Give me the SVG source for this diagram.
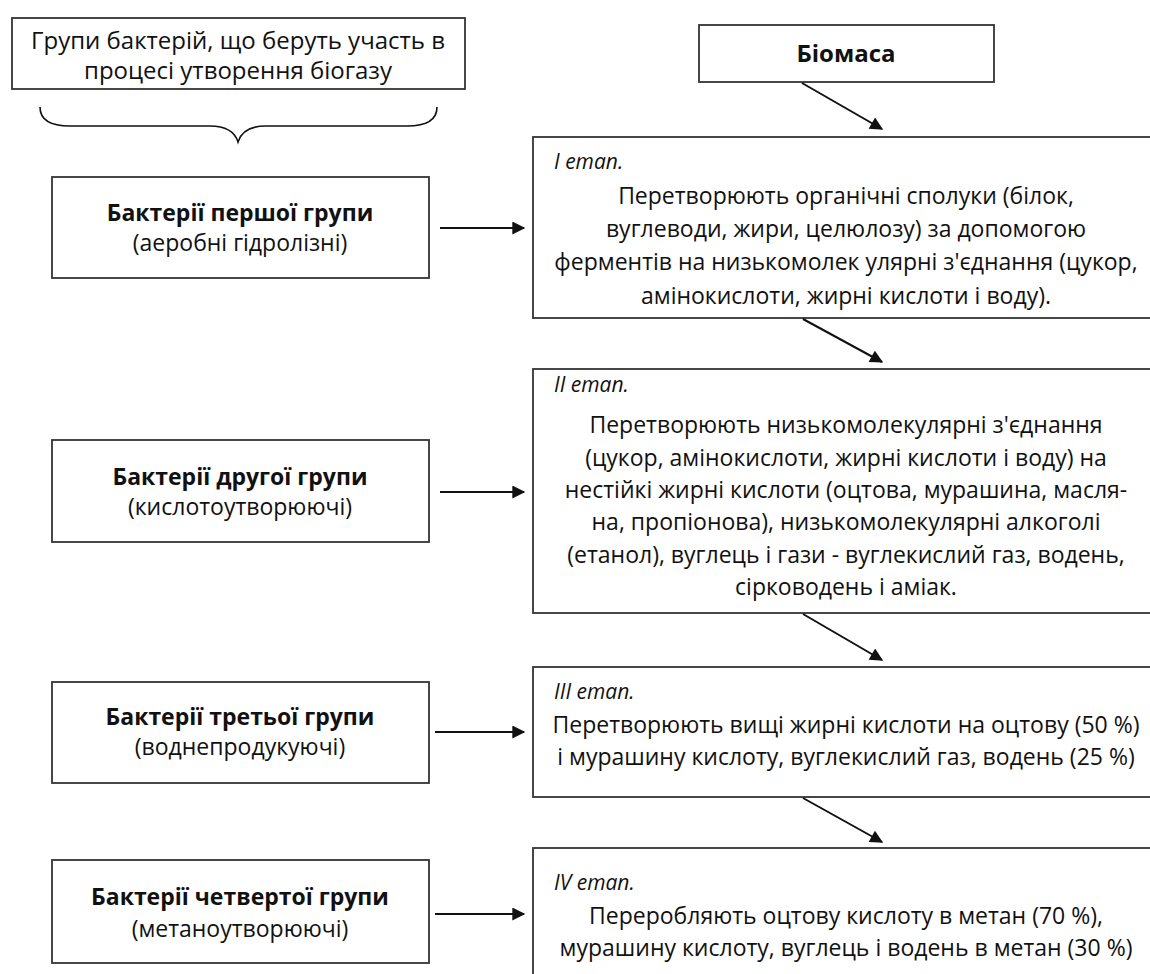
<svg xmlns="http://www.w3.org/2000/svg" width="1150" height="974" viewBox="0 0 1150 974">
<style>
.box{fill:#fff;stroke:#333;stroke-width:1.8}
.t{font-family:"Open Sans","Noto Sans","Liberation Sans",sans-serif;font-size:23px;fill:#111;text-anchor:middle}
.b{font-weight:bold}
.i{font-style:italic;text-anchor:start;font-size:21px}
.c{fill:none;stroke:#111;stroke-width:2}
</style>
<defs>
<marker id="ah" viewBox="0 0 10 10" refX="9" refY="5" markerWidth="7" markerHeight="6.5" markerUnits="strokeWidth" orient="auto">
<path d="M0,0 L10,5 L0,10 z" fill="#111"/>
</marker>
</defs>
<rect width="1150" height="974" fill="#fff"/>

<g id="groups-title">
<rect class="box" x="12" y="18" width="453" height="71"/>
<text class="t" x="238" y="49" style="font-size:24px">Групи бактерій, що беруть участь в</text>
<text class="t" x="238" y="79" style="font-size:24px">процесі утворення біогазу</text>
</g>
<g id="brace">
<path class="c" style="stroke-width:1.6" d="M40,107 Q40,126 70,126 L210,126 Q233,126 238,142 Q243,126 266,126 L407,126 Q437,126 437,107"/>
</g>

<g id="biomass">
<rect class="box" x="699" y="25" width="295" height="57"/>
<text class="t b" x="846" y="62" style="font-size:24px">Біомаса</text>
</g>

<g id="group1">
<rect class="box" x="52" y="177" width="377" height="101"/>
<text class="t b" x="240" y="221">Бактерії першої групи</text>
<text class="t" x="240" y="251">(аеробні гідролізні)</text>
</g>
<g id="group2">
<rect class="box" x="52" y="440" width="377" height="102"/>
<text class="t b" x="240" y="485">Бактерії другої групи</text>
<text class="t" x="240" y="515">(кислотоутворюючі)</text>
</g>
<g id="group3">
<rect class="box" x="52" y="682" width="377" height="101"/>
<text class="t b" x="240" y="725">Бактерії третьої групи</text>
<text class="t" x="240" y="755">(воднепродукуючі)</text>
</g>
<g id="group4">
<rect class="box" x="52" y="860" width="377" height="103"/>
<text class="t b" x="240" y="905">Бактерії четвертої групи</text>
<text class="t" x="240" y="937">(метаноутворюючі)</text>
</g>

<g id="stage1">
<rect class="box" x="533" y="137" width="640" height="181"/>
<text class="t i" x="554" y="169">I етап.</text>
<text class="t" x="846" y="204">Перетворюють органічні сполуки (білок,</text>
<text class="t" x="846" y="237">вуглеводи, жири, целюлозу) за допомогою</text>
<text class="t" x="846" y="270">ферментів на низькомолек улярні з'єднання (цукор,</text>
<text class="t" x="846" y="304">амінокислоти, жирні кислоти і воду).</text>
</g>
<g id="stage2">
<rect class="box" x="533" y="369" width="640" height="244"/>
<text class="t i" x="554" y="392">II етап.</text>
<text class="t" x="846" y="433">Перетворюють низькомолекулярні з'єднання</text>
<text class="t" x="846" y="466">(цукор, амінокислоти, жирні кислоти і воду) на</text>
<text class="t" x="846" y="498">нестійкі жирні кислоти (оцтова, мурашина, масля-</text>
<text class="t" x="846" y="530">на, пропіонова), низькомолекулярні алкоголі</text>
<text class="t" x="846" y="563">(етанол), вуглець і гази - вуглекислий газ, водень,</text>
<text class="t" x="846" y="595">сірководень і аміак.</text>
</g>
<g id="stage3">
<rect class="box" x="533" y="667" width="640" height="130"/>
<text class="t i" x="554" y="699">III етап.</text>
<text class="t" x="846" y="733">Перетворюють вищі жирні кислоти на оцтову (50 %)</text>
<text class="t" x="846" y="765">і мурашину кислоту, вуглекислий газ, водень (25 %)</text>
</g>
<g id="stage4">
<rect class="box" x="533" y="848" width="640" height="140"/>
<text class="t i" x="554" y="890">IV етап.</text>
<text class="t" x="846" y="924">Переробляють оцтову кислоту в метан (70 %),</text>
<text class="t" x="846" y="956">мурашину кислоту, вуглець і водень в метан (30 %)</text>
</g>

<g id="connectors">
<line class="c" x1="802" y1="83" x2="882" y2="129" marker-end="url(#ah)"/>
<line class="c" x1="803" y1="319" x2="882" y2="362" marker-end="url(#ah)"/>
<line class="c" x1="803" y1="614" x2="882" y2="660" marker-end="url(#ah)"/>
<line class="c" x1="803" y1="798" x2="882" y2="842" marker-end="url(#ah)"/>
<line class="c" x1="440" y1="228" x2="524" y2="228" marker-end="url(#ah)"/>
<line class="c" x1="440" y1="492" x2="524" y2="492" marker-end="url(#ah)"/>
<line class="c" x1="435" y1="732" x2="524" y2="732" marker-end="url(#ah)"/>
<line class="c" x1="435" y1="914" x2="524" y2="914" marker-end="url(#ah)"/>
</g>
</svg>
